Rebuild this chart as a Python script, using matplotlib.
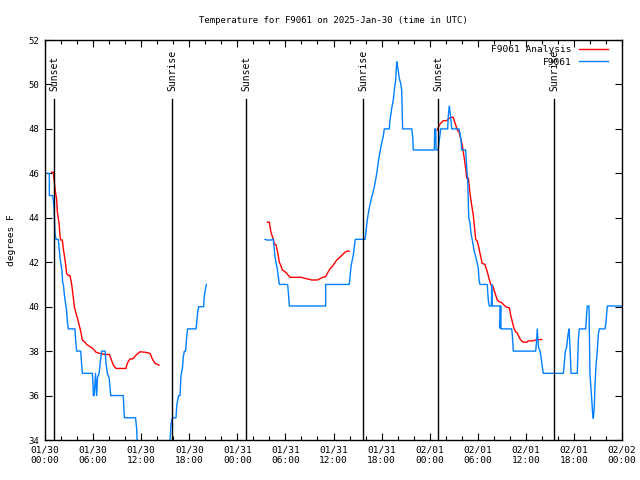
import matplotlib
matplotlib.use("Agg")
import matplotlib.pyplot as plt
import numpy as np

plt.rcParams['font.family'] = ['DejaVu Sans Mono']
plt.rcParams['font.size'] = 6.5

# hours since 2025-01-30 00:00 UTC, nan = gap in data
obs_hours = [0.29, 0.54, 0.54, 0.96, 1.12, 1.2, 1.25, 1.37, 1.66, 1.79, 1.87, 1.95, 2.12, 2.2, 2.29,
             2.4, 2.5, 2.7, 2.8, 2.91, 3.74, 3.8, 3.95, 4.45, 4.55, 4.66, 5.9, 6.0, 6.03, 6.15, 6.3,
             6.45, 6.55, 6.75, 6.9, 7.07, 7.5, 7.6, 7.78, 8.0, 8.2, 9.77, 9.9, 11.3, 11.44, 11.6,
             15.5, 15.6, 15.72, 15.89, 16.35, 16.43, 16.55, 16.68, 16.85, 16.97, 17.14, 17.26,
             17.39, 17.55, 17.68, 17.8, 18.84, 18.93, 19.05, 19.18, 19.8, 19.88, 20.01, 20.13,
             np.nan,
             27.45, 27.66, 28.28, 28.41, 28.49, 28.57, 28.7, 28.82, 28.99, 29.11, 29.24, 30.28,
             30.36, 30.49, 35.02, 35.02, 37.97, 38.06, 38.18, 38.35, 38.47, 38.6, 38.72, 39.93,
             40.05, 40.18, 40.3, 40.5, 40.75, 40.9, 41.1, 41.25, 41.4, 41.55, 41.7, 41.85, 42.0,
             42.2, 42.34, 42.96, 43.05, 43.17, 43.3, 43.46, 43.59, 43.76, 43.89, 44.01, 44.21,
             44.38, 44.51, 44.63, 45.76, 45.88, 45.96, 48.58, 48.62, 48.75, 48.8, 49.05, 49.2,
             49.38, 50.25, 50.32, 50.45, 50.62, 50.75, 51.66, 51.78, 51.91, 52.0, 52.49, 52.62,
             52.75, 52.87, 53.03, 53.16, 53.32, 53.53, 53.74, 53.94, 54.07, 54.16, 54.28, 55.19,
             55.31, 55.44, 55.7, 55.74, 55.82, 56.78, 56.8, 56.86, 56.9, 58.24, 58.31, 58.44,
             61.23, 61.33, 61.43, 61.56, 61.77, 61.89, 62.05, 62.18, 64.68, 64.8, 64.92, 65.1,
             65.26, 65.39, 65.51, 65.64, 66.42, 66.55, 66.67, 67.47, 67.59, 67.67, 67.88, 68.0,
             68.22, 68.34, 68.42, 68.54, 68.63, 68.75, 68.92, 69.04, 69.17, 69.88, 70.0, 70.17,
             71.96]
obs_temp = [46.0, 46.0, 45.0, 45.0, 44.5, 43.8, 43.3, 43.03, 43.03, 42.5, 42.2, 42.0, 41.6, 41.1, 41.0,
            40.6, 40.3, 39.8, 39.3, 39.0, 39.0, 38.6, 38.0, 38.0, 37.5, 37.0, 37.0, 36.5, 36.0, 36.0, 37.0,
            36.0, 36.8, 37.0, 37.5, 38.0, 38.0, 37.5, 37.0, 36.8, 36.0, 36.0, 35.0, 35.0, 34.5, 33.0,
            33.0, 34.0, 34.7, 35.0, 35.0, 35.5, 35.8, 36.0, 36.0, 36.9, 37.2, 37.75,
            38.0, 38.0, 38.65, 39.0, 39.0, 39.25, 39.75, 40.0, 40.0, 40.5, 40.75, 41.0,
            np.nan,
            43.03, 43.0, 43.0, 43.05, 43.0, 42.7, 42.25, 42.0, 41.7, 41.35, 41.0, 41.0,
            40.67, 40.03, 40.03, 41.0, 41.0, 41.35, 41.8, 42.1, 42.33, 42.7, 43.03, 43.03,
            43.37, 43.8, 44.1, 44.5, 44.9, 45.1, 45.4, 45.7, 46.0, 46.4, 46.75, 47.05, 47.35,
            47.65, 48.0, 48.0, 48.4, 48.7, 49.0, 49.3, 49.75, 50.2, 51.02, 50.8, 50.27,
            50.05, 49.75, 48.0, 48.0, 47.65, 47.05, 47.05, 48.0, 48.0, 47.05, 47.05, 47.5,
            48.0, 48.0, 48.55, 49.03, 48.55, 48.0, 48.0, 47.8, 47.5, 47.05, 47.05, 46.3,
            45.7, 44.05, 43.75, 43.3, 43.0, 42.55, 42.25, 41.95, 41.73, 41.2, 41.0, 41.0,
            40.3, 40.03, 40.03, 41.0, 40.03, 40.03, 39.03, 40.03, 39.0, 39.0, 38.73, 38.0,
            38.0, 38.42, 39.0, 38.2, 38.0, 37.75, 37.3, 37.0, 37.0, 37.45, 37.97, 38.2,
            38.73, 39.0, 38.2, 37.0, 37.0, 38.5, 39.0, 39.0, 39.7, 40.03, 40.03, 37.0,
            35.8, 35.2, 34.97, 35.5, 36.47, 37.3, 38.05, 38.73, 39.0, 39.0, 39.3, 40.03,
            40.03]

ana_hours = [0.83, 1.04, 1.25, 1.46, 1.54, 1.75, 1.87, 1.95, 2.16, 2.29, 2.41, 2.58, 2.7, 2.91, 3.12,
             3.33, 3.54, 3.66, 3.87, 4.04, 4.24, 4.45, 4.66, 4.99, 5.2, 5.49, 5.82, 6.03, 6.36, 6.78,
             7.49, 8.03, 8.24, 8.53, 8.86, 10.1, 10.27, 10.6, 10.94, 11.44, 11.85, 12.48, 13.1,
             13.39, 13.73, 14.23,
             np.nan,
             27.74, 27.99, 28.08, 28.2, 28.37, 28.49, 28.62, 28.82, 28.99, 29.11, 29.24, 29.41,
             29.61, 29.86, 30.16, 30.57, 32.03, 32.36, 32.86, 33.28, 33.98, 34.31, 34.65, 35.02,
             35.23, 35.56, 35.98, 36.4, 36.73, 37.02, 37.43, 37.72, 37.97,
             np.nan,
             48.95, 49.2, 49.42, 49.71, 50.12, 50.32, 50.62, 50.95, 51.07, 51.25, 51.45, 51.66,
             51.87, 52.07, 52.2, 52.32, 52.49, 52.62, 52.83, 53.03, 53.24, 53.44, 53.57, 53.74,
             53.94, 54.16, 54.28, 54.55, 54.9, 55.19, 55.4, 55.66, 55.86, 56.03, 56.24, 56.44,
             56.69, 56.99, 57.28, 57.61, 57.94, 58.11, 58.31, 58.52, 58.73, 58.93, 59.14, 59.36,
             59.69, 60.11, 60.31, 60.94, 61.15, 61.56, 61.98]
ana_temp = [46.05, 46.05, 45.3, 44.8, 44.27, 43.75, 43.2, 43.0, 43.0, 42.6, 42.3, 41.9, 41.5, 41.4, 41.4,
            41.0, 40.4, 40.0, 39.7, 39.5, 39.2, 38.9, 38.5, 38.4, 38.3, 38.23, 38.15, 38.1, 37.95, 37.9,
            37.85, 37.85, 37.65, 37.37, 37.22, 37.22, 37.45, 37.65, 37.65, 37.85, 37.97, 37.95, 37.9,
            37.65, 37.45, 37.37,
            np.nan,
            43.8, 43.8, 43.6, 43.35, 43.15, 43.05, 42.8, 42.8, 42.5, 42.3, 42.0, 41.87,
            41.65, 41.6, 41.5, 41.32, 41.32, 41.28, 41.24, 41.2, 41.2, 41.26, 41.32, 41.35,
            41.5, 41.7, 41.87, 42.1, 42.2, 42.3, 42.45, 42.5, 42.5,
            np.nan,
            47.95, 48.17, 48.27, 48.37, 48.37, 48.45, 48.52, 48.52, 48.37, 48.17, 47.95, 47.85,
            47.57, 47.27, 46.97, 46.67, 46.22, 45.78, 45.78, 45.1, 44.57, 44.12, 43.67, 43.03,
            42.95, 42.62, 42.4, 41.95, 41.9, 41.57, 41.27, 40.97, 40.95, 40.75, 40.52, 40.3,
            40.22, 40.18, 40.07, 39.97, 39.95, 39.62, 39.32, 39.03, 38.87, 38.82, 38.65, 38.5,
            38.4, 38.4, 38.46, 38.46, 38.5, 38.52, 38.52]

sun_hours = [1.15, 15.88, 25.1, 39.72, 49.08, 63.55]
sun_labels = ['Sunset', 'Sunrise', 'Sunset', 'Sunrise', 'Sunset', 'Sunrise']

xtick_hours = [0, 6, 12, 18, 24, 30, 36, 42, 48, 54, 60, 66, 72]
xtick_labels = ['01/30\n00:00', '01/30\n06:00', '01/30\n12:00', '01/30\n18:00',
                '01/31\n00:00', '01/31\n06:00', '01/31\n12:00', '01/31\n18:00',
                '02/01\n00:00', '02/01\n06:00', '02/01\n12:00', '02/01\n18:00',
                '02/02\n00:00']
ytick_values = [34, 36, 38, 40, 42, 44, 46, 48, 50, 52]

fig = plt.figure(figsize=(6.4, 4.8), dpi=100)
ax = fig.add_axes([45/640, 40/480, 577/640, 400/480])

ax.plot(ana_hours, ana_temp, color='#ff0000', lw=1, label='F9061 Analysis')
ax.plot(obs_hours, obs_temp, color='#0080ff', lw=1, label='F9061')

for h, lab in zip(sun_hours, sun_labels):
    ax.plot([h, h], [34, 49.35], color='black', lw=1)
    ax.text(h, 49.7, lab, rotation=90, ha='center', va='bottom', fontsize=7)

ax.set_xlim(0, 72)
ax.set_ylim(34, 52)
ax.set_xticks(xtick_hours)
ax.set_xticklabels(xtick_labels, fontsize=6.8)
ax.set_xticks(np.arange(0, 73, 2), minor=True)
ax.set_yticks(ytick_values)
ax.tick_params(which='both', direction='in', top=True, right=True, width=0.8)
ax.tick_params(which='major', length=5, pad=4)
ax.tick_params(which='minor', length=3)
for s in ax.spines.values():
    s.set_linewidth(1)

ax.set_title('Temperature for F9061 on 2025-Jan-30 (time in UTC)', fontsize=6.5, pad=12)
ax.set_ylabel('degrees F', fontsize=6.8, labelpad=9)

ax.legend(loc='upper right', frameon=False, markerfirst=False, handlelength=3.1,
          borderpad=0.2, labelspacing=0.35, handletextpad=0.8, fontsize=6.8,
          bbox_to_anchor=(0.988, 1.003))

fig.savefig('out.png', dpi=100)
